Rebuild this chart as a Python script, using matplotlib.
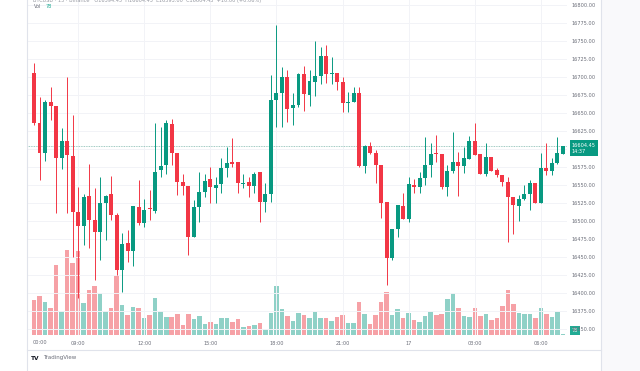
import numpy as np
import matplotlib.pyplot as plt
from matplotlib.patches import Rectangle
from matplotlib.lines import Line2D
from matplotlib.transforms import Bbox

plt.rcParams['font.family'] = ['DejaVu Sans']

#%% Données (bougies 15 min, de 07:00 à 07:00 le lendemain)
opens = [16705.5, 16636.1, 16594.4, 16665.2, 16660.0, 16587.5, 16611.1, 16590.2, 16512.5, 16493.0,
         16534.7, 16501.4, 16484.7, 16525.0, 16537.5, 16508.3, 16431.9, 16469.4, 16458.3, 16519.4,
         16497.2, 16516.6, 16513.8, 16570.8, 16577.7, 16634.7, 16594.4, 16554.1, 16548.6, 16477.7,
         16519.4, 16540.2, 16558.3, 16545.8, 16551.3, 16573.6, 16581.9, 16581.9, 16551.3, 16554.1,
         16548.6, 16568.0, 16526.3, 16537.5, 16668.0, 16677.7, 16700.0, 16656.9, 16661.1, 16704.1,
         16675.0, 16693.0, 16701.4, 16729.1, 16704.1, 16705.5, 16693.0, 16663.8, 16665.2, 16677.7,
         16576.3, 16604.1, 16594.4, 16577.7, 16526.3, 16448.6, 16488.9, 16520.8, 16502.7, 16550.0,
         16547.2, 16559.7, 16577.7, 16594.4, 16593.0, 16547.2, 16569.4, 16581.9, 16576.3, 16586.1,
         16611.1, 16593.0, 16565.2, 16588.9, 16570.8, 16563.9, 16554.1, 16533.3, 16520.8, 16530.5,
         16537.5, 16552.7, 16525.0, 16573.6, 16569.4, 16580.5, 16593.0]
highs = [16719.4, 16672.2, 16668.0, 16686.1, 16660.0, 16629.1, 16700.0, 16647.2, 16547.2, 16537.5,
         16579.1, 16545.8, 16561.1, 16536.1, 16562.5, 16511.0, 16483.3, 16487.5, 16520.8, 16556.9,
         16530.5, 16543.0, 16636.1, 16630.5, 16640.2, 16641.6, 16594.4, 16565.2, 16548.6, 16529.1,
         16568.0, 16565.2, 16575.0, 16561.1, 16587.5, 16602.7, 16615.2, 16581.9, 16565.2, 16561.1,
         16568.0, 16568.0, 16552.7, 16702.7, 16772.2, 16713.8, 16709.7, 16677.7, 16705.5, 16715.2,
         16709.7, 16750.0, 16741.6, 16744.4, 16727.7, 16705.5, 16700.0, 16679.1, 16686.1, 16686.1,
         16605.5, 16609.7, 16598.6, 16577.7, 16526.3, 16488.9, 16522.2, 16538.8, 16561.1, 16558.3,
         16568.0, 16616.6, 16608.3, 16619.4, 16593.0, 16577.7, 16623.6, 16595.8, 16602.7, 16618.0,
         16636.1, 16593.0, 16608.3, 16588.9, 16573.6, 16563.9, 16561.1, 16533.3, 16536.1, 16550.0,
         16556.9, 16552.7, 16594.4, 16608.3, 16587.5, 16616.6, 16604.45]
lows = [16633.3, 16556.9, 16583.3, 16640.2, 16511.1, 16572.2, 16511.0, 16450.0, 16393.0, 16466.6,
        16462.5, 16418.0, 16445.8, 16473.6, 16501.4, 16425.0, 16401.4, 16443.0, 16437.5, 16494.4,
        16491.6, 16501.4, 16511.0, 16561.1, 16565.2, 16577.7, 16536.1, 16536.1, 16452.8, 16477.7,
        16498.6, 16533.3, 16525.0, 16525.0, 16538.9, 16561.1, 16575.0, 16538.8, 16545.8, 16533.3,
        16538.8, 16498.6, 16512.5, 16526.3, 16630.5, 16630.5, 16637.5, 16633.3, 16658.3, 16652.7,
        16659.7, 16673.6, 16690.2, 16691.6, 16690.2, 16681.9, 16651.3, 16651.3, 16665.2, 16575.0,
        16566.6, 16593.0, 16552.7, 16504.1, 16411.1, 16445.8, 16477.7, 16502.7, 16498.6, 16538.8,
        16538.8, 16550.0, 16561.1, 16581.9, 16544.4, 16534.7, 16566.6, 16534.7, 16566.6, 16586.1,
        16591.6, 16565.2, 16562.5, 16569.4, 16561.1, 16548.6, 16470.8, 16481.9, 16500.0, 16529.1,
        16515.2, 16525.0, 16525.0, 16563.9, 16563.9, 16579.1, 16593.0]
closes = [16636.1, 16594.4, 16665.2, 16659.7, 16587.5, 16611.1, 16591.6, 16512.5, 16493.0, 16533.3,
          16501.4, 16484.7, 16525.0, 16534.7, 16508.3, 16431.9, 16468.0, 16458.3, 16520.8, 16497.2,
          16515.2, 16515.2, 16568.0, 16576.3, 16636.1, 16594.4, 16554.1, 16548.6, 16477.7, 16519.4,
          16540.2, 16555.5, 16547.2, 16550.0, 16573.6, 16580.5, 16579.1, 16552.7, 16552.7, 16548.6,
          16565.2, 16526.3, 16537.5, 16668.0, 16677.7, 16700.0, 16655.5, 16661.1, 16704.1, 16676.3,
          16694.4, 16701.4, 16729.1, 16704.1, 16705.5, 16693.0, 16663.8, 16665.2, 16677.7, 16576.3,
          16604.1, 16594.4, 16577.7, 16525.0, 16448.6, 16488.9, 16522.2, 16502.7, 16551.3, 16547.2,
          16559.7, 16577.7, 16593.0, 16593.0, 16547.2, 16569.4, 16581.9, 16576.3, 16587.5, 16611.1,
          16591.6, 16565.2, 16588.9, 16569.4, 16563.9, 16554.1, 16533.3, 16522.2, 16530.5, 16537.5,
          16552.7, 16525.0, 16573.6, 16569.4, 16580.5, 16594.4, 16604.45]
volumes = [2100, 2340, 1980, 1620, 4200, 1440, 5100, 4320, 5040, 1920,
           2700, 2940, 2520, 1440, 1620, 3540, 1800, 1200, 1680, 1620,
           1020, 1200, 2220, 1440, 1080, 1080, 1260, 600, 1260, 960,
           1140, 660, 780, 660, 1020, 1020, 780, 960, 480, 540,
           600, 720, 360, 1320, 2940, 1560, 1140, 840, 1320, 1200,
           1020, 1380, 1020, 1020, 840, 1080, 1200, 720, 720, 1980,
           1260, 660, 1200, 1980, 2580, 1200, 1560, 1020, 1320, 900,
           780, 1140, 1380, 1200, 1260, 2160, 2520, 1620, 1140, 1080,
           1620, 1140, 1260, 900, 1020, 1740, 2700, 1860, 1320, 1260,
           1260, 1020, 1620, 1260, 1080, 1380, 78]

time_ticks = [8, 20, 32, 44, 56, 68, 80, 92]
time_labels = ['09:00', '12:00', '15:00', '18:00', '21:00', '17', '03:00', '06:00']
price_ticks = list(range(16350, 16801, 25))
last_price = 16604.45

#%% Couleurs
UP, DOWN = '#089981', '#f23645'
UP_V, DOWN_V = '#8fd1c7', '#f6a1a6'
GRID = '#f2f3f7'
TXT = '#6a6d78'

o = np.array(opens); c = np.array(closes)
h = np.array(highs); l = np.array(lows)
idx = np.arange(len(o))
up = c >= o
col = np.where(up, UP, DOWN)
vcol = np.where(up, UP_V, DOWN_V)

#%% Figure
W, H = 640, 371
fig = plt.figure(figsize=(W/100, H/100), dpi=100)
fig.patch.set_facecolor('white')
fig.add_artist(Rectangle((602/W, 0), 38/W, 1, transform=fig.transFigure,
                         facecolor='#f9f9fb', edgecolor='none', zorder=0))
for seg in [([27, 27], [0, H]), ([601, 601], [0, H]), ([27, 601], [350, 350])]:
    fig.add_artist(Line2D(np.array(seg[0])/W, 1 - np.array(seg[1])/H,
                          color='#e0e3eb', lw=0.8))

ax = fig.add_axes([27/W, 1 - 335/H, 540/W, 335/H])
axv = ax.twinx()
ax.set_zorder(axv.get_zorder() + 1)
ax.patch.set_visible(False)

# volume
axv.bar(idx, volumes, width=0.82, color=vcol, linewidth=0)
axv.set_ylim(0, 20100)
axv.set_yticks([])
for s in axv.spines.values():
    s.set_visible(False)

# grille
for t in time_ticks:
    ax.axvline(t, color=GRID, lw=0.7, zorder=0)
for p in price_ticks:
    ax.axhline(p, color=GRID, lw=0.7, zorder=0)

# bougies
ax.vlines(idx, l, h, colors=col, lw=0.7, zorder=2)
ax.bar(idx, np.where(np.abs(c - o) < 1.4, 1.4, c - o), bottom=o, width=0.72,
       color=col, linewidth=0, zorder=3)
ax.axhline(last_price, color='#7fb8ad', lw=0.6, ls=(0, (1, 1)), zorder=1)

ax.set_xlim(-1.27, 96.73)
ax.set_ylim(16341.7, 16806.9)
for s in ax.spines.values():
    s.set_visible(False)

# le 16600.00 est caché par l'étiquette du dernier prix
ax.yaxis.tick_right()
ax.set_yticks(price_ticks)
ax.set_yticklabels(['' if p == 16600 else '{:.2f}'.format(p) for p in price_ticks])
ax.set_xticks(time_ticks)
ax.set_xticklabels(time_labels)
ax.tick_params(axis='both', length=0, labelsize=3.6, labelcolor=TXT)
ax.tick_params(axis='y', pad=3.6)
ax.tick_params(axis='x', pad=4.2)

# étiquette dernier prix
ax.annotate('16604.45\n14:37', xy=(1, last_price), xycoords=('axes fraction', 'data'),
            xytext=(3.6, 2.3), textcoords='offset points', ha='left', va='top',
            fontsize=3.6, color='white', linespacing=1.25, zorder=10, annotation_clip=False,
            bbox=dict(boxstyle='square,pad=0.45', facecolor=UP, edgecolor='none'))
axv.annotate('78', xy=(1, volumes[-1]), xycoords=('axes fraction', 'data'),
             xytext=(3.3, 2.2), textcoords='offset points', ha='left', va='center',
             fontsize=3.6, color='white', annotation_clip=False,
             bbox=dict(boxstyle='square,pad=0.4', facecolor='#22ab94', edgecolor='none'))

# légendes du haut
fig.text(33/W, 1 - 0.5/H, 'BTCUSD · 15 · Binance   O16594.45  H16604.45  L16593.00  C16604.45  +10.00 (+0.06%)',
         fontsize=3.6, color='#9598a1', va='center')
fig.text(34/W, 1 - 6/H, 'Vol', fontsize=3.6, color='#6a6d78', va='center')
fig.text(46/W, 1 - 6/H, '78', fontsize=3.6, color='#22ab94', va='center')

# étiquette tronquée à gauche
t = fig.text(40/W, 1 - 343/H, '00:00', fontsize=3.6, color=TXT, ha='center', va='center')
t.set_clip_box(Bbox([[33, 0], [W, H]]))
t.set_clip_on(True)

# logo
fig.text(31/W, 1 - 358/H, 'TV', fontsize=4.2, color='#131722', weight='bold', va='center')
fig.text(43/W, 1 - 358/H, 'TradingView', fontsize=4.0, color='#6a6d78', va='center')

fig.savefig('out.png', dpi=100)
